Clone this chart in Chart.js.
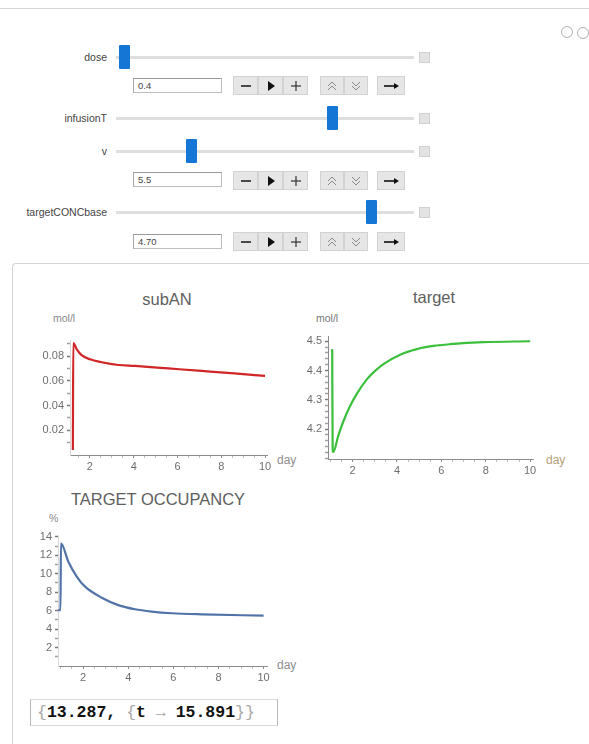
<!DOCTYPE html>
<html>
<head>
<meta charset="utf-8">
<script src="https://cdn.jsdelivr.net/npm/chart.js@4.4.1/dist/chart.umd.min.js"></script>
<style>
html,body{margin:0;padding:0;background:#fff;}
body{width:589px;height:744px;overflow:hidden;position:relative;font-family:'Liberation Sans',Arial,sans-serif;}
.topline{position:absolute;left:0;top:8px;width:589px;height:1px;background:#d6d6d6;}
.lab{position:absolute;right:482px;font-size:10.5px;line-height:12px;color:#444;white-space:nowrap;}
.track{position:absolute;left:116px;width:298px;height:3px;background:#dedede;}
.thumb{position:absolute;width:11px;height:24px;background:#1676d6;border-radius:1px;}
.sq{position:absolute;left:419px;width:9px;height:9px;background:#e3e3e3;border:1px solid #d0d0d0;}
.inp{position:absolute;left:133px;width:89px;height:15px;box-sizing:border-box;border:1px solid #bdbdbd;border-top-color:#9a9a9a;border-left-color:#a8a8a8;font-size:9.5px;line-height:13px;padding-left:4px;color:#444;}
.btn{position:absolute;height:19px;box-sizing:border-box;background:#e6e6e6;border:1px solid #d2d2d2;display:flex;align-items:center;justify-content:center;}
.icon{position:absolute;width:10px;height:10px;border:1.5px solid #b0b0b0;border-radius:50%;}
.panel{position:absolute;left:12px;top:263px;width:600px;height:500px;border-left:1px solid #d4d4d4;border-top:1px solid #d4d4d4;border-top-left-radius:4px;}
.ttl{position:absolute;width:220px;text-align:center;font-size:16.5px;line-height:18px;color:#5e5e5e;}
.unit{position:absolute;font-size:10.5px;line-height:12px;color:#8a8a8a;}
.day{position:absolute;font-size:12px;line-height:13px;color:#8e8e8e;}
canvas{position:absolute;}
.res{position:absolute;left:30px;top:699px;width:248px;height:27px;box-sizing:border-box;border:1px solid #dadada;border-left-color:#b8b8b8;border-right-color:#b8b8b8;font-family:'Liberation Mono','DejaVu Sans Mono',monospace;font-weight:bold;font-size:16.5px;line-height:25px;padding-left:6px;color:#111;white-space:nowrap;}
.res .g{color:#a8a8a8;font-weight:normal;}
</style>
</head>
<body>
<div class="topline"></div>
<div class="icon" style="left:561px;top:26px"></div>
<div class="icon" style="left:577px;top:27px"></div>

<!-- sliders -->
<div class="lab" style="top:51px">dose</div>
<div class="track" style="top:56px"></div>
<div class="thumb" style="left:119px;top:45px"></div>
<div class="sq" style="top:52px"></div>

<div class="lab" style="top:112px">infusionT</div>
<div class="track" style="top:117px"></div>
<div class="thumb" style="left:327px;top:106px"></div>
<div class="sq" style="top:113px"></div>

<div class="lab" style="top:145px">v</div>
<div class="track" style="top:150px"></div>
<div class="thumb" style="left:186px;top:139px"></div>
<div class="sq" style="top:146px"></div>

<div class="lab" style="top:206px">targetCONCbase</div>
<div class="track" style="top:211px"></div>
<div class="thumb" style="left:366px;top:200px"></div>
<div class="sq" style="top:207px"></div>

<div class="inp" style="top:78px">0.4</div>
<div class="inp" style="top:172px">5.5</div>
<div class="inp" style="top:234px">4.70</div>
<div id="btnrows"></div>

<div class="panel"></div>

<div class="ttl" style="left:57px;top:290px">subAN</div>
<div class="unit" style="left:53px;top:312px">mol/l</div>
<div class="day" style="left:277px;top:454px">day</div>

<div class="ttl" style="left:324px;top:288px">target</div>
<div class="unit" style="left:316px;top:312px;color:#777">mol/l</div>
<div class="day" style="left:546px;top:454px;color:#b5a07a">day</div>

<div class="ttl" style="left:48px;top:490px">TARGET OCCUPANCY</div>
<div class="unit" style="left:49px;top:512px">%</div>
<div class="day" style="left:277px;top:659px">day</div>

<canvas id="cSub" width="280" height="200" style="left:20px;top:280px"></canvas>
<canvas id="cTarget" width="289" height="200" style="left:300px;top:280px"></canvas>
<canvas id="cOcc" width="280" height="210" style="left:20px;top:480px"></canvas>

<div class="res"><span class="g">{</span>13.287, <span class="g">{</span>t <span class="g">&rarr;</span> 15.891<span class="g">}}</span></div>

<script>
// values
const X_TICKS = [1,1.5,2,2.5,3,3.5,4,4.5,5,5.5,6,6.5,7,7.5,8,8.5,9,9.5,10];
const X_LABELS = [2,4,6,8,10];

const SUBAN_T = [1.22,1.24,1.4,1.62,2.0,2.54,3.3,4.06,5.58,7.1,8.6,10.0];
const SUBAN_V = [0.004,0.0905,0.0855,0.0808,0.0774,0.075,0.0728,0.072,0.070,0.068,0.066,0.064];
const SUBAN_YTICKS = [0.01,0.02,0.03,0.04,0.05,0.06,0.07,0.08,0.09];
const SUBAN_YLABELS = [0.02,0.04,0.06,0.08];

const TARGET_T = [1.08,1.1,1.13,1.355,1.58,1.88,2.2,2.64,3.0,3.39,4.14,4.89,5.64,6.4,7.9,10.0];
const TARGET_V = [4.473,4.13,4.122,4.178,4.226,4.278,4.322,4.37,4.398,4.422,4.454,4.473,4.484,4.49,4.497,4.5];
const TARGET_YTICKS = [4.1,4.12,4.14,4.16,4.18,4.2,4.22,4.24,4.26,4.28,4.3,4.32,4.34,4.36,4.38,4.4,4.42,4.44,4.46,4.48,4.5];
const TARGET_YLABELS = [4.2,4.3,4.4,4.5];

const OCC_T = [0.9,1.0,1.02,1.35,1.72,2.09,2.83,3.56,4.30,5.04,5.93,7.26,10.0];
const OCC_V = [6.05,6.05,13.3,11.3,9.7,8.6,7.4,6.6,6.15,5.9,5.72,5.6,5.46];
const OCC_YTICKS = [1,2,3,4,5,6,7,8,9,10,11,12,13,14];
const OCC_YLABELS = [2,4,6,8,10,12,14];

const el = id => document.getElementById(id);
const tickFont = { family: "'Liberation Sans', Arial, sans-serif", size: 11 };
const pick = (vals, lo, hi) => s => { s.ticks = vals.filter(v => v >= lo - 1e-9 && v <= hi + 1e-9).map(value => ({ value })); };

// button strip under a slider
const svg = (w, body) => `<svg width="${w}" height="12" viewBox="0 0 ${w} 12">${body}</svg>`;
const ICONS = {
  minus: svg(12, '<line x1="1" y1="6" x2="11" y2="6" stroke="#222" stroke-width="1.6"/>'),
  play: svg(8, '<polygon points="1,1 8,6 1,11" fill="#111"/>'),
  plus: svg(12, '<line x1="1" y1="6" x2="11" y2="6" stroke="#333" stroke-width="1.2"/><line x1="6" y1="1" x2="6" y2="11" stroke="#333" stroke-width="1.2"/>'),
  up: svg(12, '<polyline points="2,6 6,2 10,6" fill="none" stroke="#888" stroke-width="1"/><polyline points="2,10 6,6 10,10" fill="none" stroke="#888" stroke-width="1"/>'),
  down: svg(12, '<polyline points="2,2 6,6 10,2" fill="none" stroke="#888" stroke-width="1"/><polyline points="2,6 6,10 10,6" fill="none" stroke="#888" stroke-width="1"/>'),
  arrow: svg(16, '<line x1="1" y1="6" x2="12" y2="6" stroke="#111" stroke-width="1.6"/><polygon points="11,3 16,6 11,9" fill="#111"/>')
};
const BTNS = [['minus',233,25],['play',258,25],['plus',283,25],['up',320,24],['down',344,24],['arrow',377,28]];
el('btnrows').innerHTML = [76,171,232].map(top =>
  BTNS.map(([k,l,w]) => `<div class="btn" style="left:${l}px;top:${top}px;width:${w}px">${ICONS[k]}</div>`).join('')
).join('');

function plot(id, t, v, color, o){
  const pts = () => t.map((x,i) => ({ x, y: v[i] }));
  const datasets = [{ data: pts(), borderColor: color, borderWidth: 2.2, pointRadius: 0, fill: false, cubicInterpolationMode: 'monotone' }];
  if(o.overlay) datasets.push({ data: pts(), borderColor: o.overlay, borderWidth: 1, borderDash: [3,3], pointRadius: 0, fill: false, cubicInterpolationMode: 'monotone' });
  return new Chart(el(id), {
    type: 'line',
    data: { datasets },
    options: {
      responsive: false, animation: false, devicePixelRatio: 1,
      layout: { padding: o.pad },
      plugins: { legend: { display: false }, tooltip: { enabled: false } },
      scales: {
        x: {
          type: 'linear', min: o.xMin, max: o.xMax,
          afterFit: s => { s.height = 20; },
          afterBuildTicks: pick(X_TICKS, o.xMin, o.xMax),
          ticks: { autoSkip: false, maxRotation: 0, padding: 2, font: tickFont, color: '#6e6e6e',
                   callback: val => X_LABELS.includes(val) ? String(val) : '' },
          grid: { drawOnChartArea: false, tickLength: 3,
                  tickColor: c => X_LABELS.includes(c.tick && c.tick.value) ? '#8a8a8a' : '#bdbdbd' },
          border: { color: '#8c8c8c', width: 1 }
        },
        y: {
          min: o.yMin, max: o.yMax,
          afterFit: s => { s.width = o.yW; },
          afterBuildTicks: pick(o.yTicks, o.yMin, o.yMax),
          ticks: { autoSkip: false, padding: 3, font: tickFont, color: '#6e6e6e',
                   callback: val => o.yLabels.includes(val) ? o.fmt(val) : '' },
          grid: { drawOnChartArea: false, tickLength: 3, tickWidth: 1.5,
                  tickColor: c => o.yLabels.includes(c.tick && c.tick.value) ? '#7a7a7a' : '#a0a0a0' },
          border: { color: o.yAxis, width: 1 }
        }
      }
    }
  });
}

plot('cSub', SUBAN_T, SUBAN_V, '#d12626', {
  pad: { left: 10, right: 33, top: 60, bottom: 5 }, yW: 40,
  xMin: 1.09, xMax: 10.09, yMin: 0, yMax: 0.093,
  yTicks: SUBAN_YTICKS, yLabels: SUBAN_YLABELS, fmt: v => v.toFixed(2), yAxis: '#d8d8d8'
});
plot('cTarget', TARGET_T, TARGET_V, '#3cc03c', {
  pad: { left: 2, right: 56, top: 56, bottom: 1 }, yW: 26,
  xMin: 0.89, xMax: 10.13, yMin: 4.098, yMax: 4.518,
  yTicks: TARGET_YTICKS, yLabels: TARGET_YLABELS, fmt: v => v.toFixed(1), yAxis: '#8c8c8c',
  overlay: '#3f5a3f'
});
plot('cOcc', OCC_T, OCC_V, '#5273a8', {
  pad: { left: 8, right: 33, top: 55, bottom: 4 }, yW: 30,
  xMin: 0.89, xMax: 10.15, yMin: 0, yMax: 14.2,
  yTicks: OCC_YTICKS, yLabels: OCC_YLABELS, fmt: v => String(v), yAxis: '#d8d8d8'
});
</script>
</body>
</html>
